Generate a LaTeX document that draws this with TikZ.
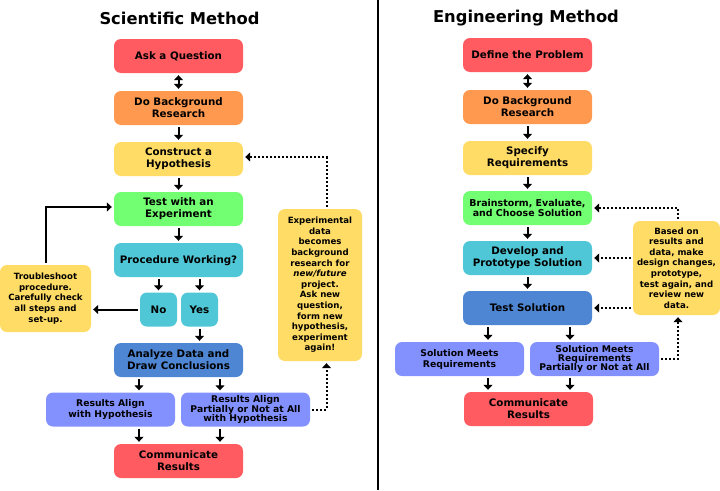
\documentclass[tikz,border=0pt]{standalone}
\usepackage{fontspec}
\setmainfont{DejaVu Sans}
\usetikzlibrary{arrows.meta}
\definecolor{redbox}{HTML}{FF5B60}
\definecolor{orangebox}{HTML}{FF994F}
\definecolor{yellowbox}{HTML}{FFDC66}
\definecolor{greenbox}{HTML}{72FF72}
\definecolor{tealbox}{HTML}{4FC7D6}
\definecolor{bluebox}{HTML}{4F86D3}
\definecolor{peribox}{HTML}{8391FF}
\tikzset{
  stepbox/.style={rounded corners=7pt,inner sep=0pt,minimum width=129pt,minimum height=34pt,align=center,font=\fontsize{10.3}{12}\selectfont\bfseries},
  oneline/.style={text height=7.6pt,text depth=0pt},
  smallbox/.style={stepbox,font=\fontsize{9.25}{11}\selectfont\bfseries},
  tightbox/.style={stepbox,font=\fontsize{9.25}{9.3}\selectfont\bfseries},
  notebox/.style={rounded corners=7pt,inner sep=0pt,fill=yellowbox,align=center,font=\fontsize{8.6}{10.6}\selectfont\bfseries},
  title/.style={inner sep=0pt,font=\fontsize{16.3}{18}\selectfont\bfseries},
  flow/.style={line width=2pt,-{Triangle[width=9pt,length=5pt]},shorten >=2pt,shorten <=2pt},
  flowboth/.style={flow,{Triangle[width=9pt,length=5pt]}-{Triangle[width=9pt,length=5pt]}},
  loopback/.style={flow,dash pattern=on 2pt off 2pt},
}
\begin{document}
\begin{tikzpicture}[x=1pt,y=-1pt]
\useasboundingbox (0,0) rectangle (720,490);
\fill [white] (0,0) rectangle (720,490);
\draw [black,line width=2.4pt] (378,0) -- (378,490);

\node [title] (scititle) at (179.5,18) {Scientific Method};
\node [stepbox,oneline,fill=redbox] (ask) at (178.5,56) {Ask a Question};
\node [stepbox,fill=orangebox] (sciback) at (178.5,108) {Do Background\\Research};
\node [stepbox,fill=yellowbox] (hypo) at (178.5,159) {Construct a\\Hypothesis};
\node [stepbox,fill=greenbox] (exper) at (178.5,209) {Test with an\\Experiment};
\node [stepbox,oneline,fill=tealbox] (proc) at (178.5,260) {Procedure Working?};
\node [stepbox,fill=tealbox,minimum width=37pt] (no) at (158.5,309.5) {No};
\node [stepbox,fill=tealbox,minimum width=37pt] (yes) at (199.5,309.5) {Yes};
\node [stepbox,fill=bluebox] (analyze) at (178.5,360) {Analyze Data and\\Draw Conclusions};
\node [smallbox,fill=peribox] (align) at (110.5,409.5) {Results Align\\with Hypothesis};
\node [tightbox,fill=peribox] (partly) at (245.5,409.5) {Results Align\\Partially or Not at All\\with Hypothesis};
\node [stepbox,fill=redbox] (scicomm) at (178.5,461) {Communicate\\Results};
\node [notebox,minimum width=91pt,minimum height=67pt] (trouble) at (45.5,298.5) {Troubleshoot\\procedure.\\Carefully check\\all steps and\\set-up.};
\node [notebox,minimum width=84pt,minimum height=152pt] (newdata) at (320,285) {Experimental\\data\\becomes\\background\\research for\\\textit{new/future}\\project.\\Ask new\\question,\\form new\\hypothesis,\\experiment\\again!};

\draw [flowboth] (ask) -- (sciback);
\draw [flow] (sciback) -- (hypo);
\draw [flow] (hypo) -- (exper);
\draw [flow] (exper) -- (proc);
\draw [flow] (no |- proc.south) -- (no);
\draw [flow] (yes |- proc.south) -- (yes);
\draw [flow] (yes) -- (yes |- analyze.north);
\draw [flow] (no) -- (no -| trouble.east);
\draw [flow] (trouble.north) |- ([yshift=2pt]exper.west);
\draw [flow] ([xshift=-39.5pt]analyze.south) -- ([xshift=-39.5pt]analyze.south |- align.north);
\draw [flow] ([xshift=41.5pt]analyze.south) -- ([xshift=41.5pt]analyze.south |- partly.north);
\draw [flow] ([xshift=-39.5pt]scicomm.north |- align.south) -- ([xshift=-39.5pt]scicomm.north);
\draw [flow] ([xshift=41.5pt]scicomm.north |- partly.south) -- ([xshift=41.5pt]scicomm.north);
\draw [loopback] (partly.east) -| ([xshift=6.5pt]newdata.south);
\draw [loopback] ([xshift=6.5pt]newdata.north) |- ([yshift=2pt]hypo.east);

\node [title] (engtitle) at (526,18) {Engineering Method};
\node [stepbox,oneline,fill=redbox] (define) at (527.5,55) {Define the Problem};
\node [stepbox,fill=orangebox] (engback) at (527.5,107) {Do Background\\Research};
\node [stepbox,fill=yellowbox] (spec) at (527.5,158) {Specify\\Requirements};
\node [smallbox,fill=greenbox,font=\fontsize{9.45}{10.7}\selectfont\bfseries] (brain) at (527.5,208) {Brainstorm, Evaluate,\\and Choose Solution};
\node [stepbox,fill=tealbox] (proto) at (527.5,258) {Develop and\\Prototype Solution};
\node [stepbox,fill=bluebox] (testsol) at (527.5,308) {Test Solution};
\node [smallbox,fill=peribox] (meets) at (459.5,359) {Solution Meets\\Requirements};
\node [tightbox,fill=peribox] (partmeets) at (594.5,359) {Solution Meets\\Requirements\\Partially or Not at All};
\node [stepbox,fill=redbox] (engcomm) at (528.5,409) {Communicate\\Results};
\node [notebox,minimum width=87pt,minimum height=94pt] (redo) at (676.5,268) {Based on\\results and\\data, make\\design changes,\\prototype,\\test again, and\\review new\\data.};

\draw [flowboth] (define) -- (engback);
\draw [flow] (engback) -- (spec);
\draw [flow] (spec) -- (brain);
\draw [flow] (brain) -- (proto);
\draw [flow] (proto) -- (testsol);
\draw [flow] ([xshift=-39.5pt]testsol.south) -- ([xshift=-39.5pt]testsol.south |- meets.north);
\draw [flow] ([xshift=42.5pt]testsol.south) -- ([xshift=42.5pt]testsol.south |- partmeets.north);
\draw [flow] ([xshift=-40.5pt]engcomm.north |- meets.south) -- ([xshift=-40.5pt]engcomm.north);
\draw [flow] ([xshift=41.5pt]engcomm.north |- partmeets.south) -- ([xshift=41.5pt]engcomm.north);
\draw [loopback] ([xshift=1.5pt]redo.north) |- (brain.east);
\draw [loopback] (redo.west |- proto.east) -- (proto.east);
\draw [loopback] (redo.west |- testsol.east) -- (testsol.east);
\draw [loopback] (partmeets.east) -| ([xshift=1.5pt]redo.south);
\end{tikzpicture}
\end{document}
